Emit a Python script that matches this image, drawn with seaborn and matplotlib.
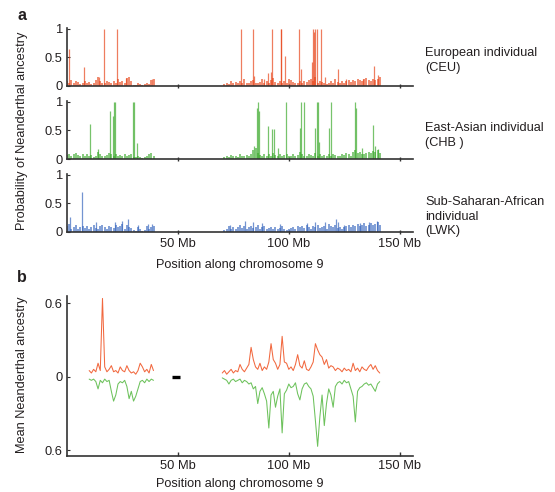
import numpy as np
import matplotlib
matplotlib.use("Agg")
import matplotlib.pyplot as plt
import seaborn as sns

# ---------------- data (Mb positions, probabilities) ----------------
base_left_pos = list(range(0, 40))
base_right_pos = list(range(71, 142))

ceu_base_left = [0.08, 0.06, 0.1, 0.05, 0.09, 0.07, 0.04, 0.06, 0.08, 0.05,
                 0.07, 0.04, 0.06, 0.1, 0.15, 0.08, 0.06, 0.05, 0.09, 0.07,
                 0.05, 0.08, 0.06, 0.12, 0.07, 0.09, 0.06, 0.14, 0.15, 0.08,
                 0.02, 0.01, 0.05, 0.03, 0.02, 0.04, 0.06, 0.03, 0.1, 0.13]
ceu_base_right = [0.04, 0.06, 0.03, 0.08, 0.05, 0.07, 0.06, 0.09, 0.05, 0.12,
                  0.06, 0.05, 0.08, 0.1, 0.06, 0.05, 0.07, 0.12, 0.06, 0.08,
                  0.05, 0.1, 0.14, 0.07, 0.06, 0.09, 0.05, 0.08, 0.06, 0.12,
                  0.1, 0.07, 0.05, 0.06, 0.08, 0.05, 0.09, 0.07, 0.11, 0.13,
                  0.08, 0.15, 0.06, 0.09, 0.07, 0.05, 0.04, 0.06, 0.08, 0.05,
                  0.12, 0.07, 0.06, 0.09, 0.05, 0.08, 0.1, 0.07, 0.11, 0.09,
                  0.13, 0.1, 0.08, 0.12, 0.14, 0.11, 0.09, 0.13, 0.1, 0.12, 0.15]
ceu_spike_pos = [0.8, 7.5, 14.3, 16.5, 22.5, 26.5, 38.3, 78.4, 83.8, 84.3, 88.6,
                 90.8, 91.8, 92.3, 96.3, 96.7, 98.4, 104.6, 105.5, 110.4, 111.1,
                 111.5, 111.8, 112.6, 114.4, 116.4, 122.0, 126.0, 133.5, 138.4, 140.3]
ceu_spike_val = [0.65, 0.33, 0.15, 1.0, 1.0, 0.14, 0.13, 1.0, 1.0, 0.18, 0.12,
                 0.22, 0.25, 1.0, 1.0, 1.0, 0.52, 1.0, 0.3, 0.42, 1.0,
                 0.95, 1.0, 1.0, 1.0, 0.15, 0.3, 0.12, 0.13, 0.35, 0.2]

chb_base_left = [0.07, 0.09, 0.06, 0.08, 0.1, 0.07, 0.05, 0.08, 0.06, 0.09,
                 0.05, 0.07, 0.04, 0.06, 0.12, 0.08, 0.06, 0.05, 0.07, 0.1,
                 0.08, 0.06, 0.09, 0.05, 0.07, 0.06, 0.08, 0.05, 0.07, 0.09,
                 0.04, 0.03, 0.05, 0.04, 0.02, 0.03, 0.05, 0.08, 0.1, 0.06]
chb_base_right = [0.03, 0.05, 0.04, 0.07, 0.05, 0.06, 0.04, 0.08, 0.05, 0.06,
                  0.07, 0.05, 0.09, 0.15, 0.2, 0.1, 0.07, 0.06, 0.08, 0.05,
                  0.09, 0.06, 0.1, 0.07, 0.05, 0.08, 0.06, 0.07, 0.09, 0.05,
                  0.06, 0.08, 0.05, 0.07, 0.12, 0.09, 0.06, 0.05, 0.08, 0.07,
                  0.06, 0.1, 0.05, 0.08, 0.06, 0.07, 0.05, 0.09, 0.06, 0.08,
                  0.07, 0.05, 0.06, 0.09, 0.07, 0.1, 0.08, 0.06, 0.12, 0.15,
                  0.1, 0.13, 0.08, 0.09, 0.11, 0.12, 0.1, 0.14, 0.12, 0.15, 0.1]
chb_spike_pos = [10.2, 14.0, 19.5, 20.6, 21.3, 21.7, 29.7, 30.3, 31.5, 84.5, 85.6,
                 86.0, 86.5, 90.4, 92.6, 93.2, 95.0, 98.6, 105.0, 105.5, 106.8,
                 111.9, 112.6, 113.1, 113.8, 118.2, 119.1, 129.9, 130.5, 132.8,
                 137.8, 138.8, 140.3]
chb_spike_val = [0.62, 0.18, 0.85, 0.76, 1.0, 1.0, 1.0, 1.0, 0.28, 0.22, 0.9,
                 1.0, 0.85, 0.58, 0.52, 0.52, 0.2, 1.0, 0.55, 1.0, 1.0,
                 0.55, 1.0, 1.0, 0.3, 0.55, 1.0, 1.0, 0.9, 0.2,
                 0.6, 0.22, 0.18]

lwk_base_left = [0.1, 0.14, 0.06, 0.09, 0.12, 0.05, 0.08, 0.1, 0.07, 0.11,
                 0.06, 0.09, 0.13, 0.07, 0.05, 0.1, 0.12, 0.08, 0.06, 0.11,
                 0.09, 0.07, 0.13, 0.08, 0.1, 0.14, 0.06, 0.12, 0.09, 0.07,
                 0.03, 0.02, 0.08, 0.05, 0.02, 0.03, 0.1, 0.06, 0.09, 0.11]
lwk_base_right = [0.04, 0.06, 0.1, 0.05, 0.08, 0.06, 0.09, 0.12, 0.07, 0.1,
                  0.06, 0.08, 0.11, 0.07, 0.09, 0.13, 0.06, 0.08, 0.1, 0.05,
                  0.07, 0.09, 0.06, 0.08, 0.05, 0.07, 0.1, 0.06, 0.04, 0.05,
                  0.07, 0.09, 0.06, 0.11, 0.08, 0.1, 0.07, 0.12, 0.09, 0.06,
                  0.1, 0.08, 0.13, 0.07, 0.09, 0.11, 0.06, 0.14, 0.1, 0.08,
                  0.12, 0.07, 0.09, 0.06, 0.08, 0.1, 0.12, 0.09, 0.13, 0.11,
                  0.14, 0.1, 0.12, 0.15, 0.11, 0.13, 0.16, 0.12, 0.14, 0.17, 0.13]
lwk_spike_pos = [1.2, 6.8, 13.0, 21.5, 25.0, 27.3, 32.2, 36.4, 38.2, 73.5, 80.2,
                 83.8, 87.8, 96.1, 108.1, 111.9, 116.1, 121.3, 122.4, 125.1,
                 132.2, 136.0, 139.8]
lwk_spike_val = [0.26, 0.7, 0.17, 0.17, 0.2, 0.23, 0.12, 0.14, 0.14, 0.12, 0.2,
                 0.17, 0.15, 0.14, 0.15, 0.17, 0.18, 0.22, 0.18, 0.12,
                 0.15, 0.17, 0.2]

# panel b: mean Neanderthal ancestry (CEU up, CHB drawn downward)
mean_left_pos = list(range(10, 40))
mean_right_pos = list(range(70, 142))
ceu_mean_left = [0.05, 0.03, 0.06, 0.04, 0.11, 0.05, 0.64, 0.08, 0.04, 0.06,
                 0.09, 0.04, 0.05, 0.03, 0.08, 0.05, 0.04, 0.09, 0.05, 0.03,
                 0.04, 0.02, 0.05, 0.11, 0.08, 0.04, 0.06, 0.03, 0.1, 0.05]
ceu_mean_right = [0.03, 0.05, 0.02, 0.04, 0.06, 0.03, 0.05, 0.04, 0.1, 0.06,
                  0.04, 0.07, 0.1, 0.24, 0.14, 0.08, 0.06, 0.11, 0.05, 0.08,
                  0.06, 0.12, 0.27, 0.14, 0.11, 0.06, 0.1, 0.33, 0.12, 0.11,
                  0.06, 0.08, 0.05, 0.1, 0.18, 0.09, 0.07, 0.13, 0.06, 0.05,
                  0.08, 0.12, 0.27, 0.22, 0.18, 0.16, 0.1, 0.14, 0.07, 0.09,
                  0.08, 0.05, 0.07, 0.06, 0.04, 0.07, 0.05, 0.06, 0.04, 0.11,
                  0.05, 0.07, 0.04, 0.08, 0.06, 0.05, 0.08, 0.1, 0.06, 0.09,
                  0.05, 0.03]
chb_mean_left = [-0.02, -0.03, -0.02, -0.04, -0.1, -0.03, -0.05, -0.02, -0.04, -0.03,
                 -0.12, -0.2, -0.15, -0.06, -0.04, -0.05, -0.03, -0.08, -0.18, -0.12,
                 -0.2, -0.16, -0.1, -0.04, -0.03, -0.05, -0.02, -0.04, -0.02, -0.03]
chb_mean_right = [-0.01, -0.02, -0.03, -0.06, -0.03, -0.02, -0.04, -0.03, -0.02, -0.05,
                  -0.03, -0.04, -0.06, -0.05, -0.1, -0.08, -0.22, -0.12, -0.09, -0.14,
                  -0.2, -0.42, -0.15, -0.12, -0.25, -0.16, -0.1, -0.46, -0.14, -0.11,
                  -0.06, -0.09, -0.08, -0.05, -0.14, -0.19, -0.1, -0.06, -0.05, -0.08,
                  -0.1, -0.16, -0.36, -0.57, -0.33, -0.15, -0.4, -0.22, -0.1, -0.15,
                  -0.25, -0.08, -0.05, -0.04, -0.06, -0.03, -0.05, -0.04, -0.1, -0.16,
                  -0.37, -0.12, -0.09, -0.08, -0.06, -0.05, -0.07, -0.06, -0.09, -0.12,
                  -0.06, -0.04]
centromere = [47.5, 51.0]

x_ticks = [50, 100, 150]
x_tick_labels = ["50 Mb", "100 Mb", "150 Mb"]
row_labels = ["European individual\n(CEU)", "East-Asian individual\n(CHB )",
              "Sub-Saharan-African\nindividual\n(LWK)"]

assert len(ceu_mean_right) == len(mean_right_pos)
assert len(chb_mean_right) == len(mean_right_pos)

# ---------------- style ----------------
sns.set_style("ticks")
plt.rcParams["font.family"] = ["Liberation Sans", "DejaVu Sans"]
TXT = "#231f20"
AX = "#333333"
ORANGE = "#E8461B"
GREEN = "#3DAA2E"
BLUE = "#3867BE"
FS_TICK = 9.3
FS_LAB = 9.2

W, H = 555, 492
fig = plt.figure(figsize=(W / 100, H / 100), dpi=100)


def fx(px):
    return px / W


def fy(py):
    return 1 - py / H


XMAX = 156
left_px, right_px = 67, 413

rows = [
    (ceu_base_left, ceu_base_right, ceu_spike_pos, ceu_spike_val, ORANGE, 86),
    (chb_base_left, chb_base_right, chb_spike_pos, chb_spike_val, GREEN, 159),
    (lwk_base_left, lwk_base_right, lwk_spike_pos, lwk_spike_val, BLUE, 232),
]
for i, (bl, br, sp, sv, col, bottom_px) in enumerate(rows):
    top_px = bottom_px - 58.5
    ax = fig.add_axes([fx(left_px), fy(bottom_px), fx(right_px - left_px),
                       (bottom_px - top_px) / H])
    ax.vlines(base_left_pos, 0, bl, color=col, lw=1.1, alpha=0.8)
    ax.vlines(base_right_pos, 0, br, color=col, lw=1.1, alpha=0.8)
    ax.vlines(sp, 0, sv, color=col, lw=0.9, alpha=0.7)
    ax.set_xlim(0, XMAX)
    ax.set_ylim(0, 1.026)
    sns.despine(ax=ax)
    for s in ["left", "bottom"]:
        ax.spines[s].set_color(AX)
        ax.spines[s].set_linewidth(1.2)
    ax.set_yticks([0, 0.5, 1])
    ax.set_yticklabels(["0", "0.5", "1"], fontsize=FS_TICK, color=TXT)
    ax.set_xticks(x_ticks)
    ax.tick_params(axis="x", direction="inout", length=3, width=1, color=AX, pad=3)
    ax.tick_params(axis="y", direction="in", length=2, width=0.8, color=AX, pad=3)
    if i < 2:
        ax.set_xticklabels([])
    else:
        ax.set_xticklabels(x_tick_labels, fontsize=FS_TICK, color=TXT)
        ax.set_xlabel("Position along chromosome 9", fontsize=FS_LAB, color=TXT,
                      labelpad=6)
    ax.set_facecolor("none")

# right-side labels
for lab, top in zip(row_labels, [47, 122, 196]):
    fig.text(fx(425), fy(top), lab, fontsize=FS_LAB, color=TXT, va="top", ha="left",
             linespacing=1.3)

fig.text(fx(22), fy(131), "Probability of Neanderthal ancestry", rotation=90,
         fontsize=9.2, color=TXT, ha="center", va="center")
fig.text(fx(17), fy(16), "a", fontsize=11.5, fontweight="bold", color=TXT,
         ha="left", va="center")

# ---------------- panel b ----------------
axb = fig.add_axes([fx(left_px), fy(456), fx(right_px - left_px), 160 / H])
lw_b = 0.75
sns.lineplot(x=mean_left_pos, y=chb_mean_left, ax=axb, color="#5DBB4A", lw=lw_b,
             alpha=0.9, estimator=None, sort=False)
sns.lineplot(x=mean_right_pos, y=chb_mean_right, ax=axb, color="#5DBB4A", lw=lw_b,
             alpha=0.9, estimator=None, sort=False)
sns.lineplot(x=mean_left_pos, y=ceu_mean_left, ax=axb, color="#F0582A", lw=lw_b,
             alpha=0.9, estimator=None, sort=False)
sns.lineplot(x=mean_right_pos, y=ceu_mean_right, ax=axb, color="#F0582A", lw=lw_b,
             alpha=0.9, estimator=None, sort=False)
axb.plot(centromere, [0, 0], color="black", lw=2.4, solid_capstyle="butt")
axb.set_xlim(0, XMAX)
axb.set_ylim(-0.649, 0.66)
sns.despine(ax=axb)
for s in ["left", "bottom"]:
    axb.spines[s].set_color(AX)
    axb.spines[s].set_linewidth(1.2)
axb.set_yticks([-0.6, 0, 0.6])
axb.set_yticklabels(["0.6", "0", "0.6"], fontsize=FS_TICK, color=TXT)
axb.set_xticks(x_ticks)
axb.set_xticklabels(x_tick_labels, fontsize=FS_TICK, color=TXT)
axb.tick_params(axis="x", direction="in", length=3, width=1, color=AX, pad=3)
axb.tick_params(axis="y", direction="in", length=2, width=0.8, color=AX, pad=3)
axb.set_xlabel("Position along chromosome 9", fontsize=FS_LAB, color=TXT, labelpad=4)
axb.set_ylabel("")
axb.set_facecolor("none")

fig.text(fx(22), fy(375), "Mean Neanderthal ancestry", rotation=90,
         fontsize=9.2, color=TXT, ha="center", va="center")
fig.text(fx(17), fy(277), "b", fontsize=11.5, fontweight="bold", color=TXT,
         ha="left", va="center")

fig.savefig("out.png", dpi=100)
